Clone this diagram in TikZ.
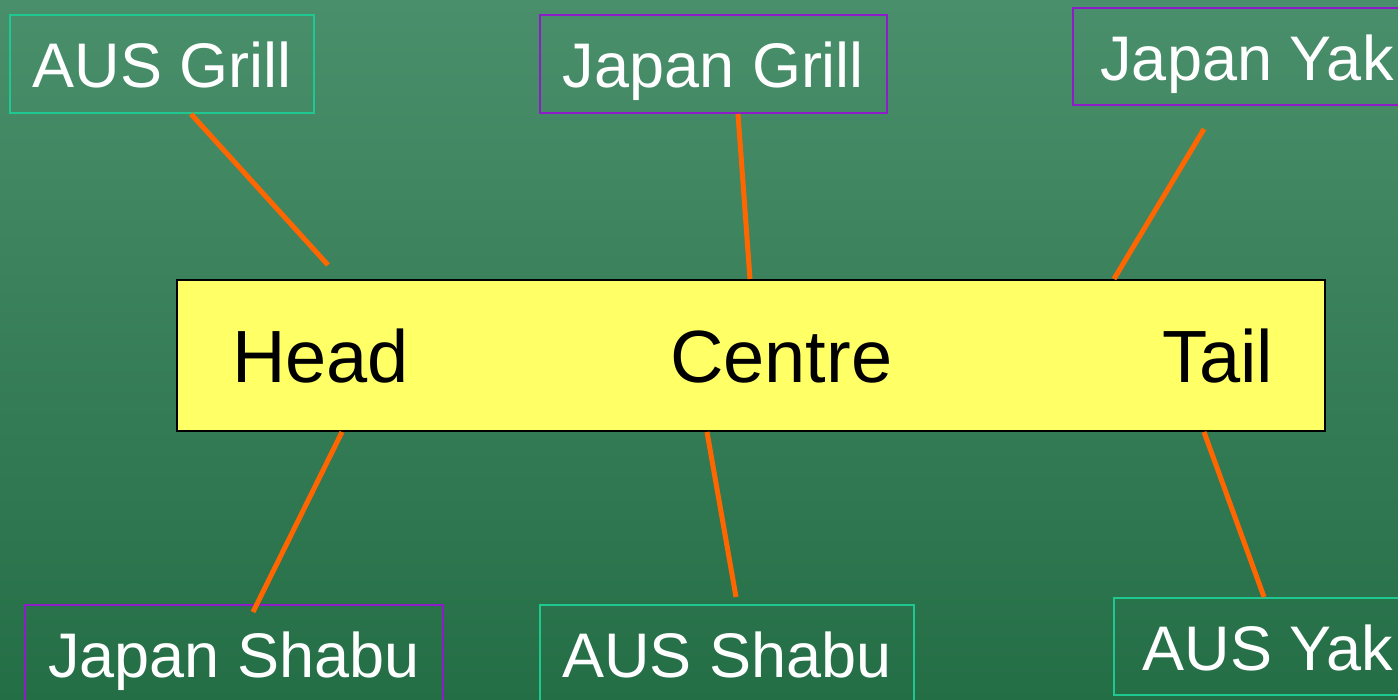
\documentclass[tikz,border=0pt]{standalone}
\usepackage{fontspec}
\setmainfont{Liberation Sans}
\definecolor{bgtop}{HTML}{4A8F6B}
\definecolor{bgbot}{HTML}{246E46}
\definecolor{tealb}{HTML}{1FC890}
\definecolor{purpb}{HTML}{8E1CC8}
\definecolor{orangel}{HTML}{FF6600}
\definecolor{yel}{HTML}{FFFF66}
\tikzset{
  lab/.style={rectangle, inner sep=0pt, line width=2pt, text=white,
    font=\fontsize{63}{70}\selectfont, text height=50pt, text depth=2pt},
  tealbox/.style={lab, draw=tealb},
  purpbox/.style={lab, draw=purpb},
  inner/.style={anchor=base west, inner sep=0pt, text=black, font=\fontsize{74}{80}\selectfont},
  conn/.style={draw=orangel, line width=5pt}
}
\begin{document}
\begin{tikzpicture}[x=1pt,y=-1pt]
\useasboundingbox (0,0) rectangle (1398,700);
\shade[top color=bgtop, bottom color=bgbot] (0,0) rectangle (1398,700);
\begin{scope}
\clip (0,0) rectangle (1398,700);
% outer label boxes
\node[tealbox, minimum width=304pt, minimum height=98pt] (ag) at (162,64) {AUS Grill};
\node[purpbox, minimum width=347pt, minimum height=98pt] (jg) at (713.5,64) {Japan Grill};
\node[purpbox, minimum width=348pt, minimum height=97pt] (jy) at (1247,56.5) {Japan Yak};
\node[purpbox, minimum width=418pt, minimum height=96pt] (js) at (234,653) {Japan Shabu};
\node[tealbox, minimum width=374pt, minimum height=96pt] (as) at (727,653) {AUS Shabu};
\node[tealbox, minimum width=308pt, minimum height=97pt] (ay) at (1268,646.5) {AUS Yak};
\end{scope}
% main bar
\node[rectangle, draw=black, line width=2pt, fill=yel, inner sep=0pt,
  minimum width=1148pt, minimum height=151pt] (main) at (751,355.5) {};
\node[inner] (head) at (232,383) {Head};
\node[inner] (centre) at (670,383) {Centre};
\node[inner] (tail) at (1162,383) {Tail};
% free ends
\coordinate (agend) at (328,265);
\coordinate (jystart) at (1204,129);
\coordinate (jsend) at (253,612);
\coordinate (asend) at (736,597);
% connectors
\draw[conn] ([xshift=182pt]ag.south west) -- (agend);
\draw[conn] ([xshift=199pt]jg.south west) -- ([xshift=574pt]main.north west);
\draw[conn] (jystart) -- ([xshift=938pt]main.north west);
\draw[conn] ([xshift=166pt]main.south west) -- (jsend);
\draw[conn] ([xshift=531pt]main.south west) -- (asend);
\draw[conn] ([xshift=1028pt]main.south west) -- ([xshift=151pt]ay.north west);
\end{tikzpicture}
\end{document}
